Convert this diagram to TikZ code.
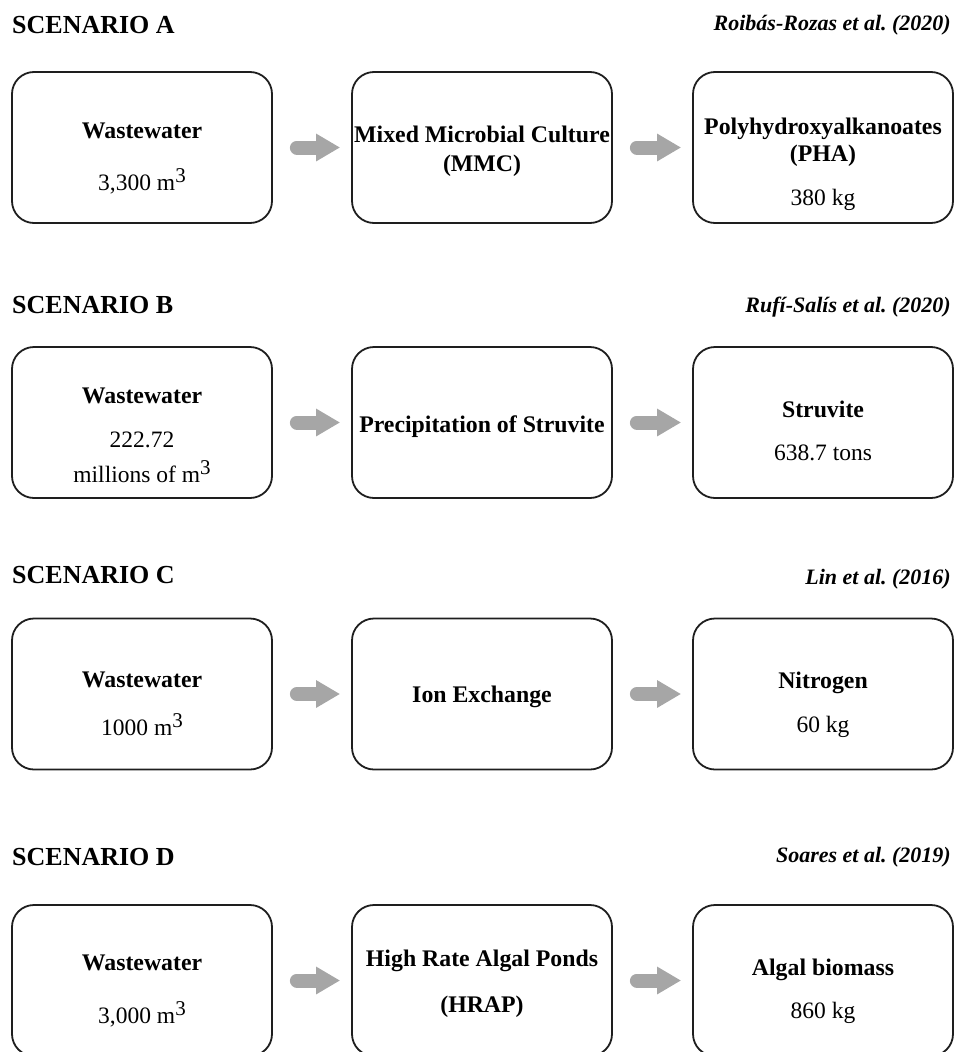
\documentclass[tikz,border=0pt]{standalone}
\usepackage{fontspec}
\setmainfont{Liberation Serif}
\usetikzlibrary{arrows.meta}
\definecolor{arrowgray}{HTML}{A6A6A6}
\definecolor{boxline}{HTML}{1E1E1E}
\newcommand\cubic{\raisebox{8pt}{\fontsize{21}{21}\selectfont 3}}
\frenchspacing
\begin{document}
\begin{tikzpicture}[x=1pt,y=-1pt,
  box/.style={draw=boxline, line width=1.8pt, rounded corners=22pt,
    minimum width=260pt, minimum height=151pt, inner sep=0pt},
  fat/.style={draw=arrowgray, line width=14pt, line cap=round,
    -{Triangle[length=24pt,width=26pt]}, shorten <=24pt, shorten >=11pt},
  hd/.style={anchor=base, font=\bfseries\fontsize{23.8}{23.8}\selectfont, inner sep=0pt},
  val/.style={anchor=base, font=\fontsize{23.5}{23.5}\selectfont, inner sep=0pt},
  title/.style={anchor=base west, font=\bfseries\fontsize{26}{26}\selectfont, inner sep=0pt},
  cite/.style={anchor=base east, font=\bfseries\itshape\fontsize{22}{22}\selectfont, inner sep=0pt}]
\useasboundingbox (0,0) rectangle (954,1052);
\clip (0,0) rectangle (954,1052);

% ---------- Scenario A ----------
\node[title] (tA) at (12,33) {SCENARIO A};
\node[cite] (cA) at (951,30) {Roibás-Rozas et al. (2020)};
\node[box] (A1) at (142,147.5) {};
\node[box] (A2) at (482,147.5) {};
\node[box] (A3) at (823,147.5) {};
\draw[fat] (A1) -- (A2);
\draw[fat] (A2) -- (A3);
\node[hd] (A1a) at (142,138) {Wastewater};
\node[val] (A1b) at (142,190) {3,300 m\cubic};
\node[hd] (A2a) at (482,142) {Mixed Microbial Culture};
\node[hd] (A2b) at (482,171) {(MMC)};
\node[hd] (A3a) at (823,134) {Polyhydroxyalkanoates};
\node[hd] (A3b) at (823,161) {(PHA)};
\node[val] (A3c) at (823,205) {380 kg};

% ---------- Scenario B ----------
\node[title] (tB) at (12,313) {SCENARIO B};
\node[cite] (cB) at (951,312) {Rufí-Salís et al. (2020)};
\node[box] (B1) at (142,422.5) {};
\node[box] (B2) at (482,422.5) {};
\node[box] (B3) at (823,422.5) {};
\draw[fat] (B1) -- (B2);
\draw[fat] (B2) -- (B3);
\node[hd] (B1a) at (142,403) {Wastewater};
\node[val] (B1b) at (142,447) {222.72};
\node[val] (B1c) at (142,482) {millions of m\cubic};
\node[hd] (B2a) at (482,432) {Precipitation of Struvite};
\node[hd] (B3a) at (823,417) {Struvite};
\node[val] (B3b) at (823,460) {638.7 tons};

% ---------- Scenario C ----------
\node[title] (tC) at (12,583) {SCENARIO C};
\node[cite] (cC) at (951,584) {Lin et al. (2016)};
\node[box] (C1) at (142,694) {};
\node[box] (C2) at (482,694) {};
\node[box] (C3) at (823,694) {};
\draw[fat] (C1) -- (C2);
\draw[fat] (C2) -- (C3);
\node[hd] (C1a) at (142,687) {Wastewater};
\node[val] (C1b) at (142,735) {1000 m\cubic};
\node[hd] (C2a) at (482,702) {Ion Exchange};
\node[hd] (C3a) at (823,688) {Nitrogen};
\node[val] (C3b) at (823,732) {60 kg};

% ---------- Scenario D ----------
\node[title] (tD) at (12,865) {SCENARIO D};
\node[cite] (cD) at (951,862) {Soares et al. (2019)};
\node[box] (D1) at (142,980.5) {};
\node[box] (D2) at (482,980.5) {};
\node[box] (D3) at (823,980.5) {};
\draw[fat] (D1) -- (D2);
\draw[fat] (D2) -- (D3);
\node[hd] (D1a) at (142,970) {Wastewater};
\node[val] (D1b) at (142,1023) {3,000 m\cubic};
\node[hd] (D2a) at (482,966) {High Rate Algal Ponds};
\node[hd] (D2b) at (482,1012) {(HRAP)};
\node[hd] (D3a) at (823,975) {Algal biomass};
\node[val] (D3b) at (823,1018) {860 kg};
\end{tikzpicture}
\end{document}
